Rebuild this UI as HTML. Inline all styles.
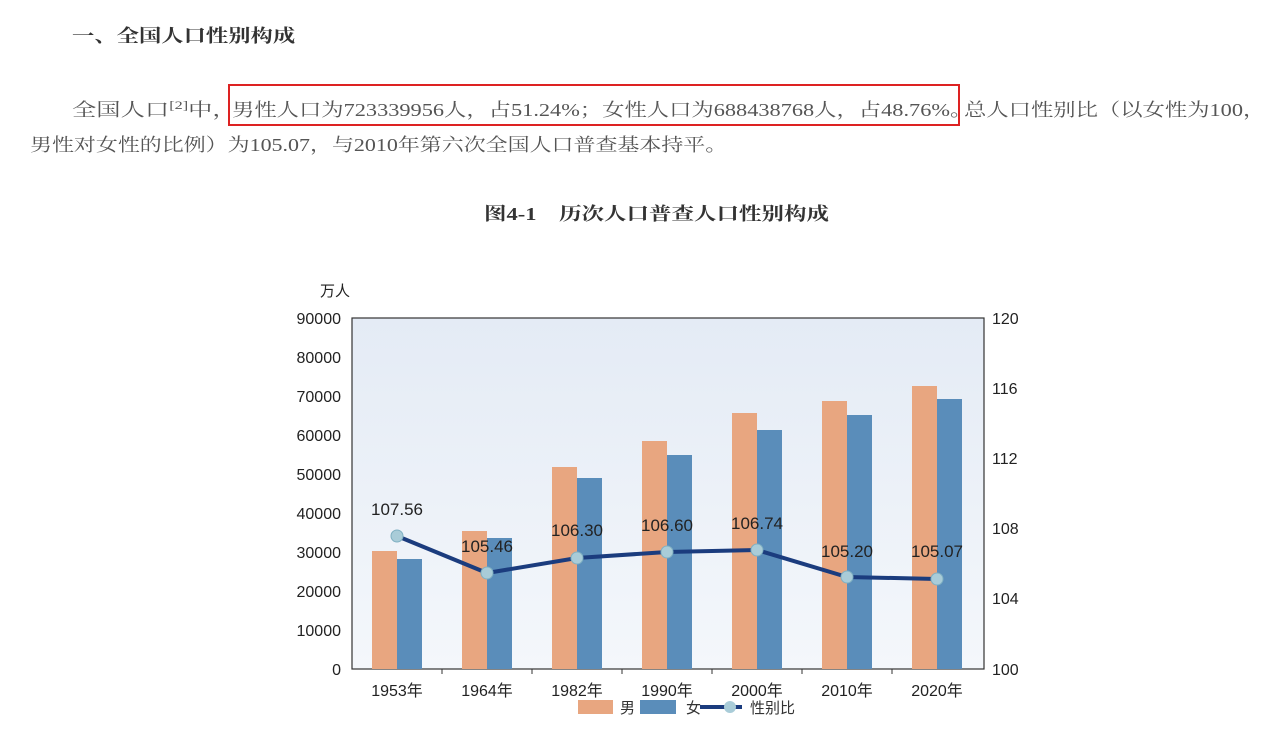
<!DOCTYPE html>
<html><head><meta charset="utf-8"><style>
body{margin:0;width:1280px;height:752px;background:#fff;overflow:hidden;position:relative;font-family:"Liberation Serif","Noto Serif CJK SC",serif;color:#444}
.t{position:absolute;white-space:nowrap;transform-origin:0 0}
</style></head><body>
<div class="t" style="left:72px;top:22px;font-size:18px;font-weight:bold;color:#333;transform:scaleX(1.24)">一、全国人口性别构成</div>
<div class="t" style="left:72px;top:96px;font-size:18px;color:#555;transform:scaleX(1.35)">全国人口<sup style="font-size:12px">[2]</sup>中，</div>
<div class="t" style="left:232px;top:96px;font-size:18px;color:#555;transform:scaleX(1.24)">男性人口为723339956人，占51.24%；女性人口为688438768人，占48.76%。</div>
<div class="t" style="left:964px;top:96px;font-size:18px;color:#555;transform:scaleX(1.24)">总人口性别比（以女性为100，</div>
<div class="t" style="left:30px;top:131px;font-size:18px;color:#555;transform:scaleX(1.22)">男性对女性的比例）为105.07，与2010年第六次全国人口普查基本持平。</div>
<div style="position:absolute;left:228px;top:84px;width:732px;height:42px;border:2px solid #d22;box-sizing:border-box"></div>
<div class="t" style="left:484px;top:200px;font-size:18px;font-weight:bold;color:#333;transform:scaleX(1.25)">图4-1　历次人口普查人口性别构成</div>
<svg width="1280" height="752" style="position:absolute;left:0;top:0" font-family="Liberation Sans, Noto Sans CJK SC, sans-serif">
<defs><linearGradient id="g" x1="0" y1="0" x2="0" y2="1"><stop offset="0" stop-color="#e4ebf5"/><stop offset="1" stop-color="#f4f7fb"/></linearGradient></defs>
<rect x="352" y="318" width="632" height="351" fill="url(#g)" stroke="#333" stroke-width="1.2"/>
<g font-size="16" fill="#222" text-anchor="end">
<text x="341" y="324">90000</text><text x="341" y="363">80000</text><text x="341" y="402">70000</text><text x="341" y="441">60000</text><text x="341" y="480">50000</text><text x="341" y="519">40000</text><text x="341" y="558">30000</text><text x="341" y="597">20000</text><text x="341" y="636">10000</text><text x="341" y="675">0</text>
</g>
<g font-size="16" fill="#222">
<text x="992" y="324">120</text><text x="992" y="394">116</text><text x="992" y="464">112</text><text x="992" y="534">108</text><text x="992" y="604">104</text><text x="992" y="675">100</text>
</g>
<text x="320" y="296" font-size="15" fill="#222">万人</text>
<g>
<rect x="372" y="551" width="25" height="118" fill="#e8a680"/><rect x="397" y="559" width="25" height="110" fill="#5a8dba"/>
<rect x="462" y="531" width="25" height="138" fill="#e8a680"/><rect x="487" y="538" width="25" height="131" fill="#5a8dba"/>
<rect x="552" y="467" width="25" height="202" fill="#e8a680"/><rect x="577" y="478" width="25" height="191" fill="#5a8dba"/>
<rect x="642" y="441" width="25" height="228" fill="#e8a680"/><rect x="667" y="455" width="25" height="214" fill="#5a8dba"/>
<rect x="732" y="413" width="25" height="256" fill="#e8a680"/><rect x="757" y="430" width="25" height="239" fill="#5a8dba"/>
<rect x="822" y="401" width="25" height="268" fill="#e8a680"/><rect x="847" y="415" width="25" height="254" fill="#5a8dba"/>
<rect x="912" y="386" width="25" height="283" fill="#e8a680"/><rect x="937" y="399" width="25" height="270" fill="#5a8dba"/>
</g>
<polyline points="397,536 487,573 577,558 667,552 757,550 847,577 937,579" fill="none" stroke="#1b3c7e" stroke-width="4"/>
<g fill="#a9ccd8" stroke="#7fb0c2" stroke-width="1">
<circle cx="397" cy="536" r="6"/><circle cx="487" cy="573" r="6"/><circle cx="577" cy="558" r="6"/><circle cx="667" cy="552" r="6"/><circle cx="757" cy="550" r="6"/><circle cx="847" cy="577" r="6"/><circle cx="937" cy="579" r="6"/>
</g>
<g font-size="17" fill="#222" text-anchor="middle">
<text x="397" y="515">107.56</text><text x="487" y="552">105.46</text><text x="577" y="536">106.30</text><text x="667" y="531">106.60</text><text x="757" y="529">106.74</text><text x="847" y="557">105.20</text><text x="937" y="557">105.07</text>
</g>
<g stroke="#333" stroke-width="1"><line x1="442" y1="669" x2="442" y2="674"/><line x1="532" y1="669" x2="532" y2="674"/><line x1="622" y1="669" x2="622" y2="674"/><line x1="712" y1="669" x2="712" y2="674"/><line x1="802" y1="669" x2="802" y2="674"/><line x1="892" y1="669" x2="892" y2="674"/></g>
<g font-size="16" fill="#222" text-anchor="middle">
<text x="397" y="696">1953年</text><text x="487" y="696">1964年</text><text x="577" y="696">1982年</text><text x="667" y="696">1990年</text><text x="757" y="696">2000年</text><text x="847" y="696">2010年</text><text x="937" y="696">2020年</text>
</g>
<rect x="578" y="700" width="35" height="14" fill="#e8a680"/><text x="620" y="713" font-size="15" fill="#333">男</text>
<rect x="640" y="700" width="36" height="14" fill="#5a8dba"/><text x="686" y="713" font-size="15" fill="#333">女</text>
<line x1="700" y1="707" x2="742" y2="707" stroke="#1b3c7e" stroke-width="4"/><circle cx="730" cy="707" r="6" fill="#a9ccd8"/>
<text x="750" y="713" font-size="15" fill="#333">性别比</text>
</svg>
</body></html>
